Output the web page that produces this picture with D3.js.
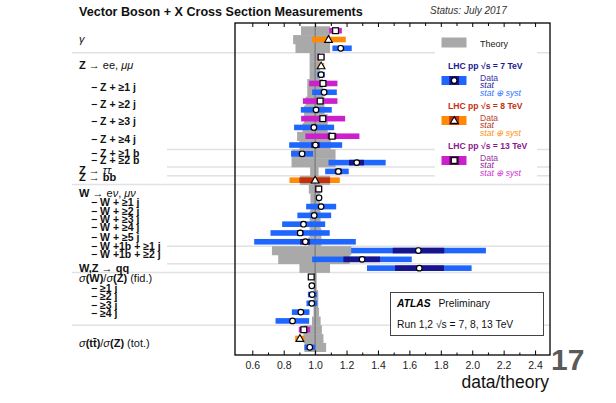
<!DOCTYPE html>
<html>
<head>
<meta charset="utf-8">
<script src="https://cdn.jsdelivr.net/npm/d3@7"></script>
<style>
  body { margin: 0; background: #fff; }
  svg { display: block; }
  text { font-family: "Liberation Sans", Arial, Helvetica, sans-serif; }
</style>
</head>
<body>
<svg id="chart" width="616" height="403"></svg>
<script>
// ---- measurements, one entry per plotted row (top to bottom) ----
const rowEnergy = [13, 8, 7, 13, 8, 7, 13, 7, 13, 7, 13, 7, 13, 7, 7, 7, 7, 8, 13, 7,
  7, 7, 7, 7, 7, 7, 7, 7, 13, 7, 7, 7, 7, 7, 13, 8, 7];
const ratio = [1.13, 1.085, 1.163, 1.038, 1.038, 1.038, 1.05, 1.057, 1.032, 1.006,
  1.049, 0.992, 1.108, 1.002, 0.917, 1.265, 1.148, 1.0, 1.023, 1.025,
  1.038, 0.994, 0.926, 0.905, 0.938, 1.657, 1.299, 1.663, 0.975, 0.979,
  0.981, 0.979, 0.909, 0.856, 0.928, 0.903, 0.966];
const totLo = [1.09, 0.98, 1.11, 1.015, 1.02, 1.013, 0.962, 0.981, 0.922, 0.909,
  0.911, 0.866, 0.938, 0.835, 0.847, 1.085, 1.064, 0.837, 1.0, 1.006,
  0.943, 0.887, 0.79, 0.716, 0.612, 1.229, 0.981, 1.33, 0.957, 0.964,
  0.954, 0.945, 0.852, 0.748, 0.896, 0.873, 0.932];
const totHi = [1.17, 1.195, 1.233, 1.06, 1.058, 1.062, 1.142, 1.138, 1.142, 1.106,
  1.191, 1.121, 1.282, 1.172, 0.987, 1.449, 1.214, 1.157, 1.045, 1.042,
  1.134, 1.102, 1.064, 1.093, 1.259, 2.087, 1.615, 1.996, 0.992, 0.995,
  1.011, 1.013, 0.964, 0.962, 0.968, 0.932, 1.0];
const statLo = [1.12, 1.075, 1.15, 1.035, 1.036, 1.036, 1.04, 1.05, 1.02, 0.995,
  1.03, 0.975, 1.08, 0.975, 0.9, 1.216, 1.125, 0.9, 1.02, 1.022,
  1.03, 0.985, 0.912, 0.885, 0.905, 1.494, 1.18, 1.509, 0.972, 0.976,
  0.975, 0.972, 0.9, 0.84, 0.925, 0.9, 0.962];
const statHi = [1.14, 1.095, 1.175, 1.041, 1.04, 1.04, 1.06, 1.065, 1.045, 1.017,
  1.07, 1.01, 1.135, 1.03, 0.935, 1.311, 1.17, 1.095, 1.026, 1.028,
  1.046, 1.003, 0.94, 0.925, 0.968, 1.822, 1.413, 1.82, 0.978, 0.982,
  0.987, 0.986, 0.918, 0.872, 0.931, 0.906, 0.97];
const theoryLo = [0.91, 0.86, 0.875, 0.965, 0.965, 0.965, 0.95, 0.95, 0.94, 0.93,
  0.93, 0.92, 0.885, 0.9, 0.85, 0.85, 0.968, 0.905, 0.96, 0.97,
  0.97, 0.965, 0.965, 0.965, 0.955, 0.725, 0.765, 0.9, 0.99, 0.99,
  0.99, 0.99, 0.99, 0.98, 0.926, 0.926, 0.932];
const theoryHi = [1.095, 1.095, 1.095, 1.03, 1.03, 1.03, 1.05, 1.05, 1.06, 1.06,
  1.08, 1.08, 1.1, 1.1, 1.13, 1.13, 1.022, 1.095, 1.035, 1.03,
  1.03, 1.035, 1.035, 1.04, 1.04, 1.23, 1.22, 1.095, 1.01, 1.01,
  1.02, 1.02, 1.025, 1.035, 1.043, 1.053, 1.07];

// ---- process labels: {..} bold, [..] italic; leading "−" = sub-measurement ----
const labelText = ["[γ]", "{Z} → ee, [μμ]", "{− Z + ≥1 j}", "{− Z + ≥2 j}", "{− Z + ≥3 j}",
  "{− Z + ≥4 j}", "{− Z + ≥1 b}", "{− Z + ≥2 b}", "{Z} → [ττ]", "{Z → bb}",
  "{W} → e[ν], [μν]", "{− W + ≥1 j}", "{− W + ≥2 j}", "{− W + ≥3 j}", "{− W + ≥4 j}",
  "{− W + ≥5 j}", "{− W +1b + ≥1 j}", "{− W +1b + ≥2 j}", "{W,Z → qq}",
  "[σ]{(W)}/[σ]{(Z)} (fid.)", "{− ≥1 j}", "{− ≥2 j}", "{− ≥3 j}", "{− ≥4 j}",
  "[σ]{(tt\u0304)}/[σ]{(Z)} (tot.)"];
const labelRow = [1, 3.9, 6.5, 8.4, 10.35, 12.35, 13.9, 14.7, 15.9, 16.7,
  18.5, 19.56, 20.5, 21.5, 22.4, 23.46, 24.5, 25.4, 27,
  28.2, 29.3, 30.25, 31.2, 32.1, 35.5];

// group boundaries (index of first row of the next group)
const groupBreaks = [3, 14, 16, 17, 18, 25, 27, 28, 34];
const shortBreaks = [14, 16, 17, 25, 27];

const majorTicks = [0.6, 0.8, 1.0, 1.2, 1.4, 1.6, 1.8, 2.0, 2.2, 2.4];
const minorTicks = [0.7, 0.9, 1.1, 1.3, 1.5, 1.7, 1.9, 2.1, 2.3];

const energies = [7, 8, 13];
const palette = {
  7:  { tot: "#1f66ff", stat: "#17148c", head: "#1c1a8c", data: "#3b35a5", statTxt: "#241e95", sys: "#2f74ff", marker: "circle" },
  8:  { tot: "#ff8a05", stat: "#c2300e", head: "#c4300f", data: "#c0452a", statTxt: "#b2341a", sys: "#ff8f10", marker: "triangle" },
  13: { tot: "#cc20cc", stat: "#6c0a70", head: "#8a1a8c", data: "#9b34a3", statTxt: "#8a1f90", sys: "#d030d0", marker: "square" }
};

const svg = d3.select("#chart");
const plot = { left: 235, right: 550, top: 23, bottom: 355 };

const x = d3.scaleLinear().domain([0.49, 2.495]).range([plot.left, plot.right]);
const y = d3.scaleBand().domain(d3.range(ratio.length)).range([26.3, 351.7]).paddingInner(0);
const bw = y.bandwidth();
const rowMid = r => y(0) + (r + 0.5) * bw;

// title
svg.append("text").attr("x", 79).attr("y", 15.5)
  .attr("font-size", 12.6).attr("font-weight", "bold").attr("fill", "#111")
  .text("Vector Boson + X Cross Section Measurements");
svg.append("text").attr("x", 430).attr("y", 14)
  .attr("font-size", 10).attr("font-style", "italic").attr("fill", "#333")
  .text("Status: July 2017");

// group separators
const sep = svg.append("g");
groupBreaks.forEach(b => {
  const yy = y(0) + b * bw;
  sep.append("line")
    .attr("x1", shortBreaks.includes(b) ? 167 : 72).attr("x2", plot.right)
    .attr("y1", yy).attr("y2", yy)
    .attr("stroke", "#e2e2e2").attr("stroke-width", 1.5);
});

const rows = d3.range(ratio.length);

// theory uncertainty bands
svg.append("g").selectAll("rect").data(rows).join("rect")
  .attr("x", i => x(theoryLo[i]))
  .attr("width", i => x(theoryHi[i]) - x(theoryLo[i]))
  .attr("y", i => y(i)).attr("height", bw + 0.3)
  .attr("fill", "#a9a9a9");

// reference line at data/theory = 1
svg.append("line").attr("x1", x(1)).attr("x2", x(1))
  .attr("y1", plot.top).attr("y2", plot.bottom)
  .attr("stroke", "#707070").attr("stroke-width", 1);

const barH = 5.6;
// total (stat ⊕ syst)
svg.append("g").selectAll("rect").data(rows).join("rect")
  .attr("x", i => x(totLo[i]))
  .attr("width", i => x(totHi[i]) - x(totLo[i]))
  .attr("y", i => y(i) + bw / 2 - barH / 2).attr("height", barH)
  .attr("fill", i => palette[rowEnergy[i]].tot);
// stat only
svg.append("g").selectAll("rect").data(rows).join("rect")
  .attr("x", i => x(statLo[i]))
  .attr("width", i => x(statHi[i]) - x(statLo[i]))
  .attr("y", i => y(i) + bw / 2 - barH / 2).attr("height", barH)
  .attr("fill", i => palette[rowEnergy[i]].stat);

// markers
function drawMarker(g, kind, cx, cy) {
  if (kind === "circle") {
    g.append("circle").attr("cx", cx).attr("cy", cy).attr("r", 2.8)
      .attr("fill", "#fff").attr("stroke", "#000").attr("stroke-width", 1.2);
  } else if (kind === "square") {
    g.append("rect").attr("x", cx - 2.9).attr("y", cy - 2.9).attr("width", 5.8).attr("height", 5.8)
      .attr("fill", "#fff").attr("stroke", "#000").attr("stroke-width", 1.2);
  } else {
    g.append("path").attr("transform", `translate(${cx},${cy + 0.6})`)
      .attr("d", d3.symbol(d3.symbolTriangle, 26)())
      .attr("fill", "#fff").attr("stroke", "#000").attr("stroke-width", 1.1);
  }
}
const mk = svg.append("g");
rows.forEach(i => drawMarker(mk, palette[rowEnergy[i]].marker, x(ratio[i]), rowMid(i)));

// process labels
const lab = svg.append("g").attr("fill", "#111");
labelText.forEach((s, k) => {
  const sub = s.replace(/^[{\[]/, "").startsWith("−");
  const t = lab.append("text").attr("x", sub ? 91 : 79).attr("y", rowMid(labelRow[k]) + 3.6)
    .attr("font-size", sub ? 10.5 : 11);
  const re = /\{([^}]*)\}|\[([^\]]*)\]|([^{\[]+)/g;
  let m;
  while ((m = re.exec(s))) {
    if (m[1] !== undefined) t.append("tspan").attr("font-weight", "bold").text(m[1]);
    else if (m[2] !== undefined) t.append("tspan").attr("font-style", "italic").text(m[2]);
    else t.append("tspan").text(m[3]);
  }
});

// legend
const lg = svg.append("g");
lg.append("rect").attr("x", 435).attr("y", 26).attr("width", 102).attr("height", 155).attr("fill", "#fff");
lg.append("rect").attr("x", 441.5).attr("y", 37.5).attr("width", 25).attr("height", 10).attr("fill", "#a9a9a9");
lg.append("text").attr("x", 480).attr("y", 47).attr("font-size", 9).attr("fill", "#222").text("Theory");
energies.forEach((e, k) => {
  const p = palette[e];
  const top = 68.5 + k * 40;
  lg.append("text").attr("x", 448).attr("y", top).attr("font-size", 8.6).attr("font-weight", "bold")
    .attr("fill", p.head).text(`LHC pp  √s = ${e} TeV`);
  const sy = top + 7.5;
  lg.append("rect").attr("x", 441.5).attr("y", sy).attr("width", 25).attr("height", 9).attr("fill", p.tot);
  lg.append("rect").attr("x", 449.3).attr("y", sy).attr("width", 9.8).attr("height", 9).attr("fill", p.stat);
  drawMarker(lg, p.marker, 454.2, sy + 4.5);
  lg.append("text").attr("x", 480).attr("y", top + 12).attr("font-size", 8.6).attr("fill", p.data).text("Data");
  lg.append("text").attr("x", 480).attr("y", top + 19.5).attr("font-size", 8.6).attr("font-style", "italic").attr("fill", p.statTxt).text("stat");
  lg.append("text").attr("x", 480).attr("y", top + 27).attr("font-size", 8.6).attr("font-style", "italic").attr("fill", p.sys).text("stat ⊕ syst");
});

// ATLAS box
const ab = svg.append("g");
ab.append("rect").attr("x", 390.5).attr("y", 292.5).attr("width", 153).attr("height", 43)
  .attr("fill", "#fff").attr("stroke", "#444").attr("stroke-width", 1);
ab.append("text").attr("x", 397).attr("y", 306.5).attr("font-size", 10.3)
  .attr("font-weight", "bold").attr("font-style", "italic").attr("fill", "#000").text("ATLAS");
ab.append("text").attr("x", 438.5).attr("y", 306.5).attr("font-size", 10.3).attr("fill", "#111").text("Preliminary");
ab.append("text").attr("x", 397).attr("y", 327.5).attr("font-size", 10.3).attr("fill", "#111")
  .text("Run 1,2  √s = 7, 8, 13 TeV");

// axes
const axB = svg.append("g").attr("transform", `translate(0,${plot.bottom})`)
  .call(d3.axisBottom(x).tickValues(majorTicks).tickSize(-4.5).tickPadding(7).tickFormat(d3.format(".1f")));
svg.append("g").attr("transform", `translate(0,${plot.bottom})`)
  .call(d3.axisBottom(x).tickValues(minorTicks).tickSize(-2.5).tickFormat(""));
svg.append("g").attr("transform", `translate(0,${plot.top})`)
  .call(d3.axisTop(x).tickValues(majorTicks).tickSize(-4).tickFormat(""));
svg.append("g").attr("transform", `translate(0,${plot.top})`)
  .call(d3.axisTop(x).tickValues(minorTicks).tickSize(-3).tickFormat(""));
svg.selectAll(".domain").remove();
svg.selectAll(".tick line").attr("stroke", "#000").attr("stroke-width", 1);
axB.selectAll("text").attr("font-size", 10.5).attr("fill", "#222")
  .attr("font-family", "\"Liberation Sans\", Arial, sans-serif");

// frame
svg.append("rect").attr("x", plot.left).attr("y", plot.top)
  .attr("width", plot.right - plot.left).attr("height", plot.bottom - plot.top)
  .attr("fill", "none").attr("stroke", "#000").attr("stroke-width", 1.3);

svg.append("text").attr("x", 549).attr("y", 388).attr("text-anchor", "end")
  .attr("font-size", 17.5).attr("fill", "#111").text("data/theory");

svg.append("text").attr("x", 551).attr("y", 370)
  .attr("font-family", "\"Liberation Serif\", \"DejaVu Serif\", serif")
  .attr("font-weight", "bold")
  .attr("font-size", 30).attr("fill", "#5a5a5a").text("17");
</script>
</body>
</html>
